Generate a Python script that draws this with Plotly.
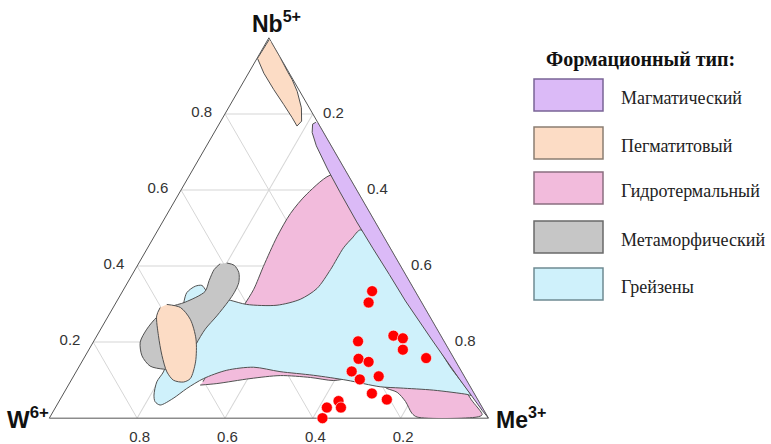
import plotly.graph_objects as go

# ---------------- data (ternary coordinates: Nb5+ = a, Me3+ = c, W6+ = 1 - a - c) ----------------
tick_vals = [0.2, 0.4, 0.6, 0.8]
tick_text = ["0.2", "0.4", "0.6", "0.8"]

# Магматический (narrow band along the Nb–Me side)
magm_nb = [0.776, 0.60, 0.40, 0.20, 0.0, 0.02, 0.104, 0.208, 0.308, 0.378, 0.447, 0.516, 0.595, 0.655, 0.716, 0.751, 0.773, 0.778]
magm_me = [0.224, 0.40, 0.60, 0.80, 1.0, 0.976, 0.881, 0.766, 0.657, 0.585, 0.513, 0.442, 0.364, 0.306, 0.250, 0.223, 0.213, 0.218]

# Пегматитовый (two fields)
pegm1_nb = [0.995, 0.946, 0.907, 0.864, 0.825, 0.790, 0.768, 0.781, 0.816, 0.859, 0.890, 0.911, 0.951, 0.988]
pegm1_me = [0.003, 0.001, 0.035, 0.079, 0.121, 0.158, 0.180, 0.184, 0.166, 0.135, 0.108, 0.087, 0.049, 0.012]
pegm2_nb = [0.299, 0.291, 0.260, 0.208, 0.148, 0.104, 0.095, 0.0997, 0.1216, 0.165, 0.217, 0.269, 0.291]
pegm2_me = [0.118, 0.153, 0.191, 0.230, 0.259, 0.269, 0.258, 0.233, 0.207, 0.174, 0.140, 0.110, 0.107]

# Гидротермальный
hydro_nb = [0.087, 0.091, 0.104, 0.112, 0.107, 0.099, 0.104, 0.089, 0.078, 0.068, 0.044, 0.013, 0.003, 0.003, 0.009,
            0.05, 0.14, 0.26, 0.38, 0.45, 0.53, 0.60, 0.64,
            0.590, 0.538, 0.477, 0.399, 0.339, 0.295, 0.234, 0.156, 0.096]
hydro_me = [0.300, 0.336, 0.405, 0.470, 0.541, 0.597, 0.633, 0.709, 0.730, 0.758, 0.789, 0.819, 0.836, 0.972, 0.981,
            0.935, 0.845, 0.725, 0.605, 0.535, 0.455, 0.380, 0.325,
            0.292, 0.280, 0.280, 0.288, 0.296, 0.295, 0.295, 0.300, 0.302]

# Метаморфический
meta_nb = [0.408, 0.402, 0.383, 0.357, 0.331, 0.307, 0.269, 0.234, 0.195, 0.151, 0.130, 0.129, 0.137, 0.164,
           0.200, 0.234, 0.266, 0.292, 0.305, 0.333, 0.362, 0.391, 0.406]
meta_me = [0.200, 0.220, 0.240, 0.253, 0.256, 0.254, 0.247, 0.238, 0.237, 0.241, 0.221, 0.195, 0.161, 0.129,
           0.107, 0.105, 0.112, 0.129, 0.157, 0.188, 0.183, 0.180, 0.186]

# Грейзены
greis_nb = [0.299, 0.330, 0.347, 0.349, 0.336, 0.318, 0.310, 0.299, 0.297, 0.3125, 0.341, 0.391, 0.448, 0.474, 0.495,
            0.45, 0.38, 0.26, 0.14, 0.06,
            0.0625, 0.0737, 0.0794, 0.0826, 0.0997, 0.1128, 0.1224, 0.134, 0.126, 0.104, 0.078, 0.052, 0.0346,
            0.0435, 0.0607, 0.0956, 0.1216, 0.156, 0.221, 0.266]
greis_me = [0.156, 0.148, 0.159, 0.173, 0.189, 0.219, 0.257, 0.300, 0.370, 0.415, 0.439, 0.445, 0.446, 0.453, 0.461,
            0.530, 0.600, 0.720, 0.840, 0.930,
            0.920, 0.838, 0.759, 0.712, 0.628, 0.545, 0.464, 0.398, 0.341, 0.299, 0.274, 0.256, 0.235,
            0.219, 0.208, 0.197, 0.199, 0.192, 0.169, 0.156]

# Samples (red dots)
pts_nb = [0.334, 0.304, 0.202, 0.217, 0.210, 0.180, 0.158, 0.156, 0.148, 0.123, 0.110, 0.102, 0.065, 0.049, 0.045, 0.028, 0.028, 0.000]
pts_me = [0.568, 0.575, 0.602, 0.675, 0.700, 0.715, 0.779, 0.626, 0.653, 0.627, 0.695, 0.656, 0.702, 0.744, 0.636, 0.650, 0.618, 0.622]

legend_title = "Формационный тип:"
legend_names = ["Магматический", "Пегматитовый", "Гидротермальный", "Метаморфический", "Грейзены"]
legend_fill = ["#dbbaf7", "#fcdcc5", "#f2bbdc", "#c6c6c6", "#cff1fb"]
legend_line = ["#7a6496", "#8a7d72", "#8a6f80", "#6a6a6a", "#6f8a92"]

# ---------------- figure ----------------
W_PX, H_PX = 771, 444
fig = go.Figure()


def add_field(nb, me, fill, line, shape="spline", smoothing=0.8):
    fig.add_trace(go.Scatterternary(
        a=nb, c=me, mode="lines", fill="toself", fillcolor=fill,
        line=dict(color=line, width=1, shape=shape, smoothing=smoothing),
        hoverinfo="skip", showlegend=False))


edge = "#505050"
add_field(hydro_nb, hydro_me, legend_fill[2], edge)
add_field(greis_nb, greis_me, legend_fill[4], edge)
add_field(magm_nb, magm_me, legend_fill[0], edge, shape="linear")
add_field(meta_nb, meta_me, legend_fill[3], edge)
add_field(pegm2_nb, pegm2_me, legend_fill[1], edge)
add_field(pegm1_nb, pegm1_me, legend_fill[1], edge, shape="linear")

fig.add_trace(go.Scatterternary(
    a=pts_nb, c=pts_me, mode="markers", cliponaxis=False,
    marker=dict(color="#ff0000", size=11, line=dict(color="white", width=0.6)),
    showlegend=False, hoverinfo="skip"))


def axis(ticklen, pad=""):
    return dict(
        tickmode="array", tickvals=tick_vals, ticktext=[pad + t for t in tick_text],
        ticks="outside" if ticklen else "", ticklen=max(ticklen, 1),
        tickcolor="rgba(0,0,0,0)",
        showgrid=True, gridcolor="#d6d6d6", gridwidth=1,
        linecolor="#555555", linewidth=1, layer="below traces",
        tickfont=dict(family="Liberation Sans, Arial", size=15, color="#333333"),
        title=dict(text=""),
    )


fig.update_layout(
    width=W_PX, height=H_PX,
    margin=dict(l=0, r=0, t=0, b=0),
    paper_bgcolor="white",
    showlegend=False,
    ternary=dict(
        sum=1,
        bgcolor="white",
        domain=dict(x=[49.3 / W_PX, 488.5 / W_PX], y=[1 - 420 / H_PX, 1 - 36 / H_PX]),
        aaxis=axis(10), baxis=axis(5), caxis=axis(0, "&nbsp;&nbsp;"),
    ),
)

# vertex labels
title_font = dict(family="Liberation Sans, Arial", size=23, color="#111111")
fig.add_annotation(text="<b>Nb<sup>5+</sup></b>", x=250 / W_PX, y=1 - 22 / H_PX, xref="paper", yref="paper",
                   xanchor="left", yanchor="middle", showarrow=False, font=title_font)
fig.add_annotation(text="<b>W<sup>6+</sup></b>", x=5 / W_PX, y=1 - 418 / H_PX, xref="paper", yref="paper",
                   xanchor="left", yanchor="middle", showarrow=False, font=dict(title_font, size=24))
fig.add_annotation(text="<b>Me<sup>3+</sup></b>", x=494 / W_PX, y=1 - 418 / H_PX, xref="paper", yref="paper",
                   xanchor="left", yanchor="middle", showarrow=False, font=title_font)

# custom legend
fig.add_annotation(text="<b>" + legend_title + "</b>", x=640 / W_PX, y=1 - 60 / H_PX, xref="paper", yref="paper",
                   xanchor="center", yanchor="middle", showarrow=False,
                   font=dict(family="Liberation Serif, Times New Roman", size=20, color="#111111"))
rows_top = [79, 127, 172, 221, 268]
for i, name in enumerate(legend_names):
    y0 = rows_top[i]
    fig.add_shape(type="rect", xref="paper", yref="paper",
                  x0=534 / W_PX, x1=603 / W_PX, y0=1 - (y0 + 32) / H_PX, y1=1 - y0 / H_PX,
                  fillcolor=legend_fill[i], line=dict(color=legend_line[i], width=1.5))
    fig.add_annotation(text=name, x=619 / W_PX, y=1 - (y0 + 19) / H_PX, xref="paper", yref="paper",
                       xanchor="left", yanchor="middle", showarrow=False,
                       font=dict(family="Liberation Serif, Times New Roman", size=18, color="#222222"))

fig.write_html("out.html", config={"displayModeBar": False},
               post_script="document.body.style.margin='0px';")
